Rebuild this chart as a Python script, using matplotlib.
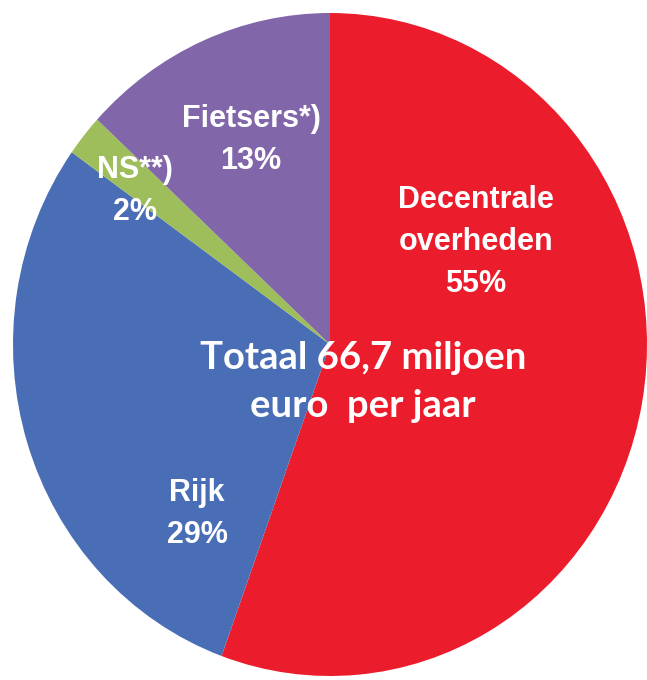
import matplotlib
matplotlib.use("Agg")
import matplotlib.pyplot as plt

# ---------------- data ----------------
labels = ["Decentrale\noverheden", "Rijk", "NS**)", "Fietsers*)"]
shares = [55, 29, 2, 13]          # percent
colors = ["#EB1D2C", "#4A6EB6", "#9DBE5A", "#8166AA"]
total_text = "Totaal 66,7 miljoen\neuro  per jaar"

# ---------------- figure ----------------
W, H = 647, 680
fig = plt.figure(figsize=(W / 100, H / 100), dpi=100)

# the pie in the source is slightly squashed horizontally -> free aspect axes
left, right, top, bottom = 13, 647, 13, 676
ax = fig.add_axes([left / W, 1 - bottom / H, (right - left) / W, (bottom - top) / H])
ax.pie(shares, colors=colors, startangle=90, counterclock=False,
       radius=1, wedgeprops=dict(linewidth=0))
ax.set_aspect("auto")
ax.set_xlim(-1, 1)
ax.set_ylim(-1, 1)
ax.axis("off")

lab_font = dict(color="white", fontweight="bold", fontsize=22,
                family=["Liberation Sans", "DejaVu Sans"],
                ha="center", va="center", linespacing=1.52)

# label positions in pixel coords (x, y from top)
lab_pos = [(476, 242), (197, 514), (135, 191), (251, 140)]
for lab, pct, (x, y) in zip(labels, shares, lab_pos):
    fig.text(x / W, 1 - y / H, f"{lab}\n{pct}%", **lab_font)

fig.text(363 / W, 1 - 382 / H, total_text, color="white", fontweight="bold",
         fontsize=27.5, family=["Lato", "DejaVu Sans"], ha="center", va="center",
         linespacing=1.5)

fig.savefig("out.png", dpi=100, facecolor="white")
